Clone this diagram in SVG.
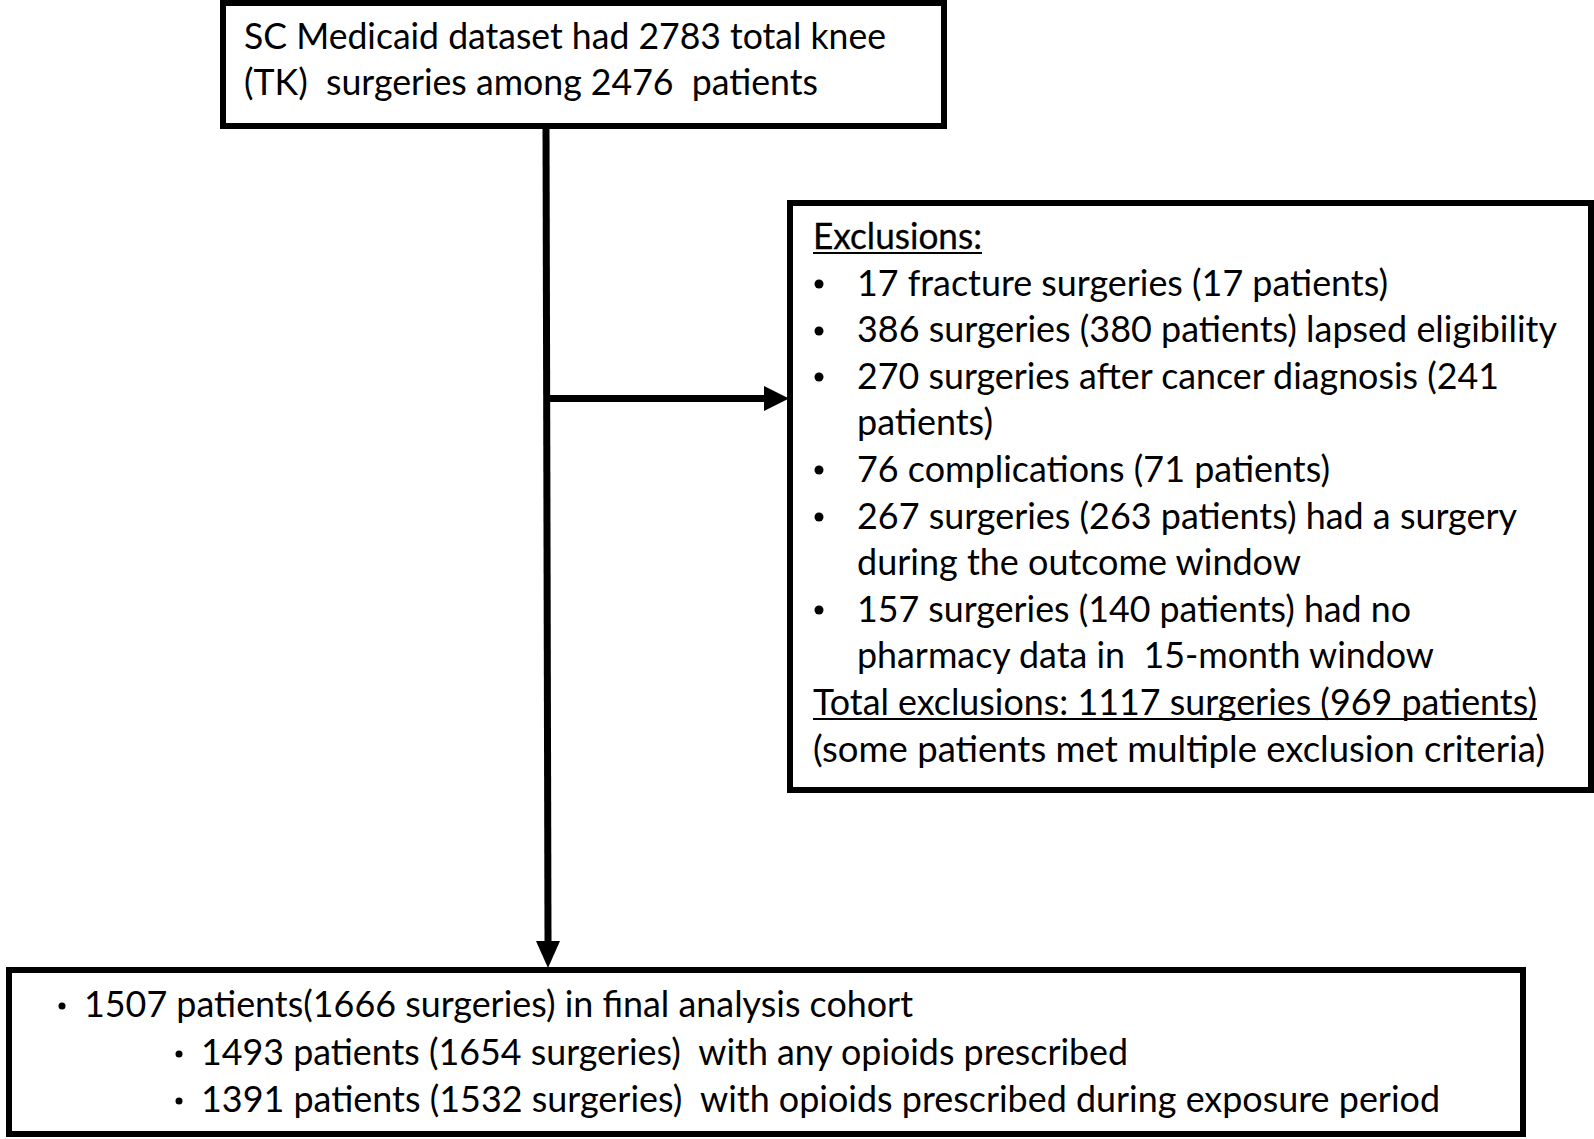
<svg xmlns="http://www.w3.org/2000/svg" width="1594" height="1139" viewBox="0 0 1594 1139">
  <style>
    .box { fill: #ffffff; stroke: #000000; stroke-width: 6; }
    .t { font-family: Lato, "Liberation Sans", sans-serif; font-size: 36px; fill: #000000; }
    .conn { stroke: #000000; stroke-width: 7; fill: none; }
    .ul { stroke: #000000; stroke-width: 2; }
  </style>
  <rect width="1594" height="1139" fill="#ffffff"/>

  <g id="connectors">
    <line class="conn" x1="546" y1="126" x2="548" y2="941"/>
    <path d="M536,941 L560,941 L548,968 Z" fill="#000000"/>
    <line class="conn" x1="546" y1="398.5" x2="766" y2="398.5"/>
    <path d="M764,386 L789,398.5 L764,411 Z" fill="#000000"/>
  </g>

  <g id="node-source">
    <rect class="box" x="223" y="3" width="721" height="123"/>
    <text class="t" x="244" y="49" textLength="642" lengthAdjust="spacingAndGlyphs" xml:space="preserve">SC Medicaid dataset had 2783 total knee</text>
    <text class="t" x="244" y="95" textLength="574" lengthAdjust="spacingAndGlyphs" xml:space="preserve">(TK)  surgeries among 2476  patients</text>
  </g>

  <g id="node-exclusions">
    <rect class="box" x="790" y="203" width="801" height="587"/>
    <text class="t" x="813" y="249" textLength="169" lengthAdjust="spacingAndGlyphs" stroke="#000000" stroke-width="0.3">Exclusions:</text>
    <line class="ul" x1="813" y1="253" x2="982" y2="253"/>
    <circle cx="819" cy="284" r="4.5"/>
    <text class="t" x="857" y="295.6" textLength="531" lengthAdjust="spacingAndGlyphs">17 fracture surgeries (17 patients)</text>
    <circle cx="819" cy="331" r="4.5"/>
    <text class="t" x="857" y="342.2" textLength="700" lengthAdjust="spacingAndGlyphs">386 surgeries (380 patients) lapsed eligibility</text>
    <circle cx="819" cy="377" r="4.5"/>
    <text class="t" x="857" y="388.8" textLength="642" lengthAdjust="spacingAndGlyphs">270 surgeries after cancer diagnosis (241</text>
    <text class="t" x="857" y="435.4" textLength="136" lengthAdjust="spacingAndGlyphs">patients)</text>
    <circle cx="819" cy="470" r="4.5"/>
    <text class="t" x="857" y="482" textLength="473" lengthAdjust="spacingAndGlyphs">76 complications (71 patients)</text>
    <circle cx="819" cy="517" r="4.5"/>
    <text class="t" x="857" y="528.6" textLength="660" lengthAdjust="spacingAndGlyphs">267 surgeries (263 patients) had a surgery</text>
    <text class="t" x="857" y="575.2" textLength="444" lengthAdjust="spacingAndGlyphs">during the outcome window</text>
    <circle cx="819" cy="610" r="4.5"/>
    <text class="t" x="857" y="621.8" textLength="554" lengthAdjust="spacingAndGlyphs">157 surgeries (140 patients) had no</text>
    <text class="t" x="857" y="668.4" textLength="577" lengthAdjust="spacingAndGlyphs" xml:space="preserve">pharmacy data in  15-month window</text>
    <text class="t" x="813" y="715" textLength="724" lengthAdjust="spacingAndGlyphs">Total exclusions: 1117 surgeries (969 patients)</text>
    <line class="ul" x1="813" y1="719" x2="1537" y2="719"/>
    <text class="t" x="813" y="761.6" textLength="732" lengthAdjust="spacingAndGlyphs">(some patients met multiple exclusion criteria)</text>
  </g>

  <g id="node-cohort">
    <rect class="box" x="9" y="970" width="1514" height="164"/>
    <circle cx="62" cy="1006" r="3.5"/>
    <text class="t" x="84" y="1017" textLength="829" lengthAdjust="spacingAndGlyphs">1507 patients(1666 surgeries) in final analysis cohort</text>
    <circle cx="179" cy="1054" r="3.5"/>
    <text class="t" x="201" y="1065" textLength="927" lengthAdjust="spacingAndGlyphs" xml:space="preserve">1493 patients (1654 surgeries)  with any opioids prescribed</text>
    <circle cx="179" cy="1101" r="3.5"/>
    <text class="t" x="201" y="1112" textLength="1239" lengthAdjust="spacingAndGlyphs" xml:space="preserve">1391 patients (1532 surgeries)  with opioids prescribed during exposure period</text>
  </g>
</svg>
